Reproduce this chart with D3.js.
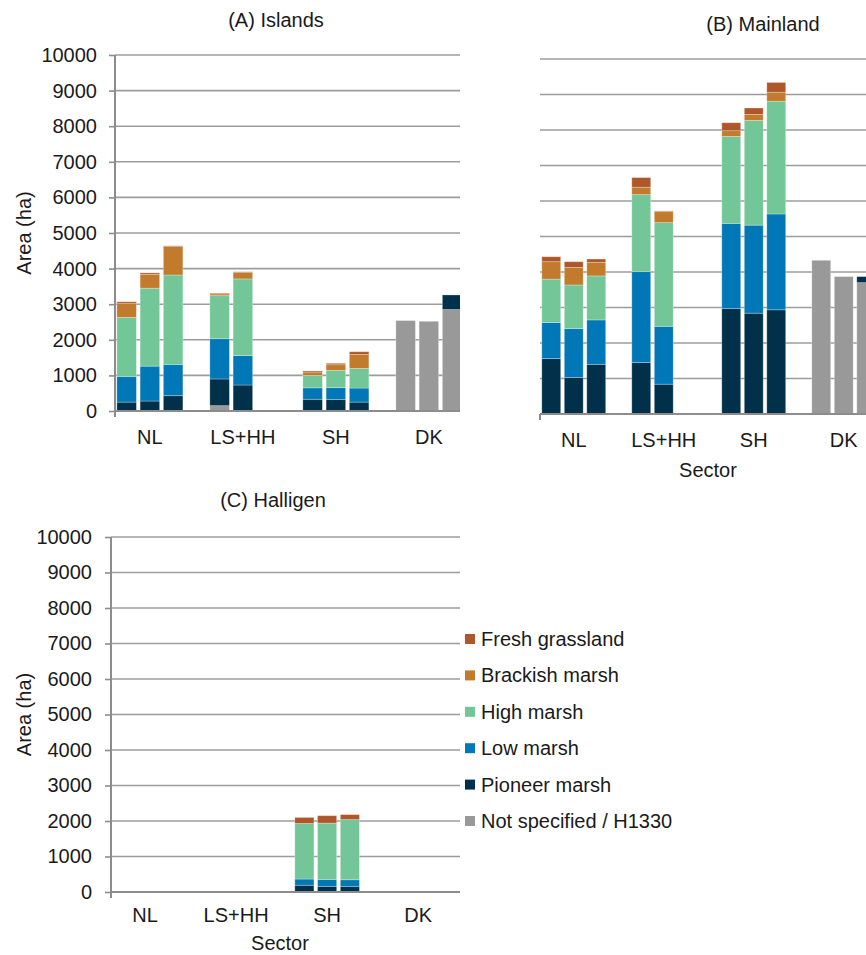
<!DOCTYPE html>
<html>
<head>
<meta charset="utf-8">
<script src="https://cdn.jsdelivr.net/npm/d3@7"></script>
<style>
  html, body { margin: 0; padding: 0; background: #fff; }
  svg { display: block; font-family: "Liberation Sans", Arial, sans-serif; }
</style>
</head>
<body>
<svg id="chart" width="866" height="955"></svg>
<script>
// ---------- data ----------
const sectors = ["NL", "LS+HH", "SH", "DK"];
const positions = ["1", "2", "3", "gap"];
const seriesNames = ["Not specified / H1330", "Pioneer marsh", "Low marsh", "High marsh", "Brackish marsh", "Fresh grassland"];
const seriesColors = ["#999999", "#00304a", "#0077b6", "#72c697", "#c27a2c", "#ae572a"];
const yTicks = [0, 1000, 2000, 3000, 4000, 5000, 6000, 7000, 8000, 9000, 10000];

// 12 bars per panel: NL x3, LS+HH x3, SH x3, DK x3
const islandsNotSpecified = [0, 0, 0, 150, 0, 0, 0, 0, 0, 2540, 2520, 2850];
const islandsPioneer      = [250, 280, 430, 750, 730, 0, 330, 320, 250, 0, 0, 410];
const islandsLow          = [720, 980, 880, 1130, 825, 0, 320, 335, 395, 0, 0, 0];
const islandsHigh         = [1660, 2190, 2510, 1210, 2155, 0, 350, 485, 550, 0, 0, 0];
const islandsBrackish     = [400, 390, 800, 50, 180, 0, 95, 160, 395, 0, 0, 0];
const islandsFresh        = [40, 40, 20, 20, 20, 0, 30, 40, 75, 0, 0, 0];

const mainlandNotSpecified = [0, 0, 0, 0, 0, 0, 0, 0, 0, 4330, 3870, 3700];
const mainlandPioneer      = [1560, 1030, 1400, 1450, 840, 0, 2970, 2840, 2935, 0, 0, 170];
const mainlandLow          = [1015, 1375, 1250, 2560, 1630, 0, 2400, 2480, 2700, 0, 0, 0];
const mainlandHigh         = [1225, 1230, 1240, 2170, 2920, 0, 2450, 2950, 3175, 0, 0, 0];
const mainlandBrackish     = [490, 495, 380, 210, 310, 0, 160, 170, 255, 0, 0, 0];
const mainlandFresh        = [140, 160, 95, 270, 20, 0, 225, 180, 275, 0, 0, 0];

const halligenNotSpecified = [0, 0, 0, 0, 0, 0, 0, 0, 0, 0, 0, 0];
const halligenPioneer      = [0, 0, 0, 0, 0, 0, 190, 160, 160, 0, 0, 0];
const halligenLow          = [0, 0, 0, 0, 0, 0, 175, 195, 185, 0, 0, 0];
const halligenHigh         = [0, 0, 0, 0, 0, 0, 1565, 1585, 1695, 0, 0, 0];
const halligenBrackish     = [0, 0, 0, 0, 0, 0, 0, 0, 0, 0, 0, 0];
const halligenFresh        = [0, 0, 0, 0, 0, 0, 170, 210, 140, 0, 0, 0];

// ---------- drawing ----------
const svg = d3.select("#chart");
const FONT = 20;
const TXT = "#1a1a1a";
const GRID = "#9c9c9c";

function buildRows(lists) {
  const rows = [];
  let i = 0;
  sectors.forEach(s => {
    ["1", "2", "3"].forEach(p => {
      const r = { sector: s, pos: p };
      seriesNames.forEach((n, k) => { r[n] = lists[k][i]; });
      rows.push(r);
      i++;
    });
  });
  return rows;
}

function drawPanel(cfg) {
  const g = svg.append("g");
  const clipId = "clip" + cfg.id;
  svg.append("defs").append("clipPath").attr("id", clipId)
    .append("rect").attr("x", cfg.x0).attr("y", 0)
    .attr("width", cfg.clipRight - cfg.x0).attr("height", 955);

  const x0 = d3.scaleBand().domain(sectors).range([cfg.x0, cfg.x0 + cfg.slot * 16]).padding(0);
  const x1 = d3.scaleBand().domain(positions).range([0, x0.bandwidth()]).paddingInner(0.16).paddingOuter(0.08);
  const y = d3.scaleLinear().domain([0, 10000]).range([cfg.yZero, cfg.yTop]);

  // gridlines
  g.append("g").selectAll("line").data(yTicks.filter(t => t > 0)).join("line")
    .attr("x1", cfg.x0).attr("x2", cfg.clipRight)
    .attr("y1", d => y(d)).attr("y2", d => y(d))
    .attr("stroke", GRID).attr("stroke-width", 1.6);

  // bars
  const rows = buildRows(cfg.lists);
  const stack = d3.stack().keys(seriesNames)(rows);
  const bars = g.append("g").attr("clip-path", `url(#${clipId})`);
  bars.selectAll("g").data(stack).join("g")
    .attr("fill", (d, i) => seriesColors[i])
    .selectAll("rect").data(d => d.filter(v => v[1] - v[0] > 0)).join("rect")
    .attr("x", d => x0(d.data.sector) + x1(d.data.pos))
    .attr("width", x1.bandwidth())
    .attr("y", d => y(d[1]))
    .attr("height", d => y(d[0]) - y(d[1]))
    .attr("stroke", "rgba(255,255,255,0.35)").attr("stroke-width", 0.8);

  // x axis line
  g.append("line").attr("x1", cfg.x0).attr("x2", cfg.clipRight)
    .attr("y1", y(0)).attr("y2", y(0)).attr("stroke", "#8c8c8c").attr("stroke-width", 2);
  g.append("line").attr("x1", cfg.x0).attr("x2", cfg.x0)
    .attr("y1", y(0)).attr("y2", y(0) + 6).attr("stroke", "#8c8c8c").attr("stroke-width", 2);

  // x labels centered on the 3-bar group
  g.append("g").selectAll("text").data(sectors).join("text")
    .attr("x", d => x0(d) + (x1("1") + x1("3") + x1.bandwidth()) / 2)
    .attr("y", cfg.xLabelY).attr("text-anchor", "middle").attr("dominant-baseline", "central")
    .attr("font-size", FONT).attr("fill", TXT).text(d => d);

  if (cfg.yAxis) {
    const ax = g.append("g").attr("transform", `translate(${cfg.x0},0)`)
      .call(d3.axisLeft(y).tickValues(yTicks).tickFormat(d3.format("d")).tickSize(6).tickPadding(cfg.tickPad));
    ax.select(".domain").attr("stroke", "#8c8c8c").attr("stroke-width", 2)
      .attr("d", `M0,${cfg.yTop}V${cfg.yZero + 6}`);
    ax.selectAll(".tick line").attr("stroke", "#8c8c8c").attr("stroke-width", 1.6);
    ax.selectAll(".tick text").attr("font-size", FONT).attr("fill", TXT)
      .attr("font-family", "Liberation Sans, Arial, sans-serif");
    g.append("text").attr("transform", `translate(${cfg.yLabelX},${(cfg.yTop + cfg.yZero) / 2}) rotate(-90)`)
      .attr("text-anchor", "middle").attr("dominant-baseline", "central")
      .attr("font-size", FONT).attr("fill", TXT).text("Area (ha)");
  }

  g.append("text").attr("x", cfg.titleX).attr("y", cfg.titleY)
    .attr("text-anchor", "middle").attr("dominant-baseline", "central")
    .attr("font-size", FONT).attr("fill", TXT).text(cfg.title);

  if (cfg.sectorLabel) {
    g.append("text").attr("x", cfg.sectorX).attr("y", cfg.sectorY)
      .attr("text-anchor", "middle").attr("dominant-baseline", "central")
      .attr("font-size", FONT).attr("fill", TXT).text("Sector");
  }
}

drawPanel({
  id: "A", title: "(A) Islands", titleX: 276, titleY: 20,
  x0: 115, slot: 23.25, clipRight: 460, yZero: 411, yTop: 55,
  yAxis: true, tickPad: 12, yLabelX: 24, xLabelY: 437, sectorLabel: false,
  lists: [islandsNotSpecified, islandsPioneer, islandsLow, islandsHigh, islandsBrackish, islandsFresh]
});

drawPanel({
  id: "B", title: "(B) Mainland", titleX: 763, titleY: 24,
  x0: 540, slot: 22.5, clipRight: 866, yZero: 414, yTop: 59,
  yAxis: false, xLabelY: 440, sectorLabel: true, sectorX: 708, sectorY: 470,
  lists: [mainlandNotSpecified, mainlandPioneer, mainlandLow, mainlandHigh, mainlandBrackish, mainlandFresh]
});

drawPanel({
  id: "C", title: "(C) Halligen", titleX: 273, titleY: 500,
  x0: 111, slot: 22.75, clipRight: 460, yZero: 892, yTop: 537,
  yAxis: true, tickPad: 13, yLabelX: 24, xLabelY: 915, sectorLabel: true, sectorX: 280, sectorY: 943,
  lists: [halligenNotSpecified, halligenPioneer, halligenLow, halligenHigh, halligenBrackish, halligenFresh]
});

// legend (top entry = Fresh grassland)
const legendOrder = seriesNames.map((n, i) => ({ name: n, color: seriesColors[i] })).reverse();
const legY = d3.scalePoint().domain(legendOrder.map(d => d.name)).range([639, 821]);
const leg = svg.append("g").selectAll("g").data(legendOrder).join("g")
  .attr("transform", d => `translate(465,${legY(d.name)})`);
leg.append("rect").attr("x", 0).attr("y", -5).attr("width", 10).attr("height", 10).attr("fill", d => d.color);
leg.append("text").attr("x", 16).attr("y", 0).attr("dominant-baseline", "central")
  .attr("font-size", FONT).attr("fill", TXT).text(d => d.name);
</script>
</body>
</html>
